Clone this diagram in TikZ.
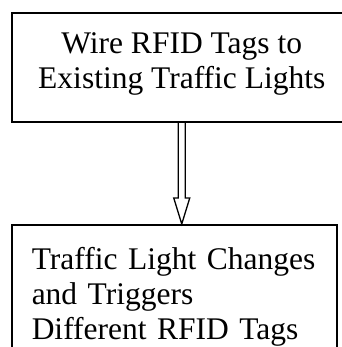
\documentclass[tikz,border=0pt]{standalone}
\usepackage{fontspec}
\setmainfont{Liberation Serif}
\usetikzlibrary{positioning,calc}
\begin{document}
\begin{tikzpicture}[x=1pt,y=-1pt]
  \tikzstyle{box}=[draw, line width=1.5pt, inner xsep=0pt,
    font=\fontsize{31.5}{35}\selectfont]
  \tikzstyle{blk}=[line width=1.3pt, line join=miter]
  \useasboundingbox (0,0) rectangle (341,347);
  \node[box, anchor=north west, minimum width=340pt,
    minimum height=109pt, text depth=15pt, align=center]
    (wire) at (11,12.5) {Wire RFID Tags to\\Existing Traffic Lights};
  \node[box, anchor=north west, inner xsep=20pt, inner ysep=22.5pt,
    text width=285pt, align=left]
    (trig) at (11,224) {Traffic Light Changes\\and Triggers\\Different RFID Tags};
  \coordinate (tip) at (wire.south |- trig.north);
  \draw[blk] ($(wire.south)+(-3.5,0)$) |- ($(tip)+(-8,-26)$)
    -- (tip) -- ($(tip)+(8,-26)$) -| ($(wire.south)+(3.5,0)$);
\end{tikzpicture}
\end{document}
